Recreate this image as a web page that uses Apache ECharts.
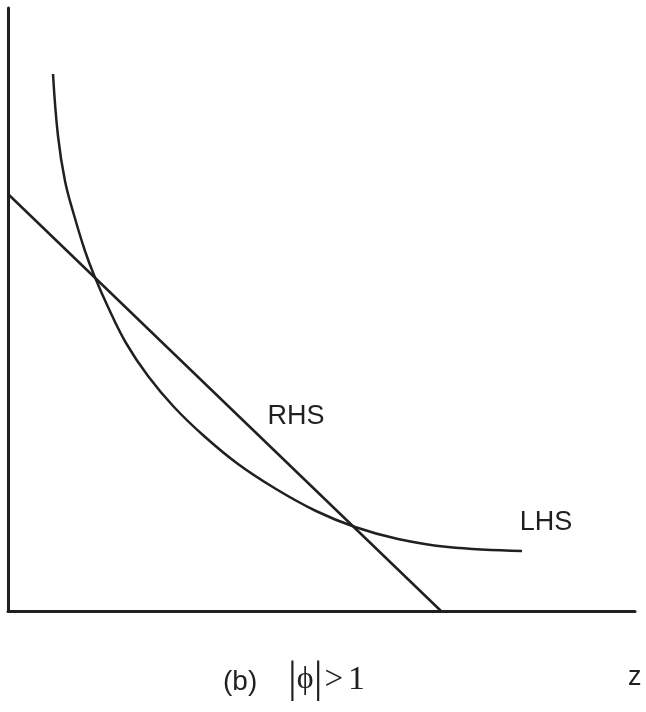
<!DOCTYPE html>
<html>
<head>
<meta charset="utf-8">
<script src="https://cdn.jsdelivr.net/npm/echarts@6/dist/echarts.min.js"></script>
<style>html,body{margin:0;padding:0;background:#fff}#c{width:646px;height:712px}</style>
</head>
<body>
<div id="c"></div>
<script>
// Data (arbitrary units)
const rhsLine = [[0, 417], [433, 0]];
const lhsCurve = [
  [45, 537], [50, 475], [57, 430], [66, 396], [77, 360], [86, 336], [100, 304],
  [118, 268], [140, 235], [166, 204], [196, 175], [230, 147], [268, 122],
  [308, 100], [347, 84], [390, 72], [440, 64], [514, 60]
];
const rhsLabelPos = [288, 194];
const lhsLabelPos = [538, 88];
const xMax = 627, yMax = 603;

const ink = '#231f20';
const chart = echarts.init(document.getElementById('c'));
chart.setOption({
  animation: false,
  grid: { left: 8, right: 11, top: 8, bottom: 101 },
  xAxis: {
    type: 'value', min: 0, max: xMax,
    axisLine: { show: true, lineStyle: { color: ink, width: 3 } },
    axisTick: { show: false }, axisLabel: { show: false }, splitLine: { show: false }
  },
  yAxis: {
    type: 'value', min: 0, max: yMax,
    axisLine: { show: true, lineStyle: { color: ink, width: 3 } },
    axisTick: { show: false }, axisLabel: { show: false }, splitLine: { show: false }
  },
  series: [
    {
      type: 'line', data: rhsLine, showSymbol: false, symbol: 'none',
      lineStyle: { color: ink, width: 2.5 },
      markPoint: {
        symbol: 'circle', symbolSize: 0,
        label: { show: true, formatter: 'RHS', color: ink, fontSize: 27, fontFamily: 'Liberation Sans, Arial, sans-serif' },
        data: [{ coord: rhsLabelPos }]
      }
    },
    {
      type: 'line', data: lhsCurve, smooth: 0.4, showSymbol: false, symbol: 'none',
      lineStyle: { color: ink, width: 2.5 },
      markPoint: {
        symbol: 'circle', symbolSize: 0,
        label: { show: true, formatter: 'LHS', color: ink, fontSize: 27, fontFamily: 'Liberation Sans, Arial, sans-serif' },
        data: [{ coord: lhsLabelPos }]
      }
    }
  ],
  graphic: [
    { type: 'text', left: 628, top: 664,
      style: { text: 'z', fill: ink, font: '27px "Liberation Sans", Arial, sans-serif' } },
    { type: 'text', left: 223, top: 668,
      style: { text: '(b)', fill: ink, font: '28px "Liberation Sans", Arial, sans-serif' } },
    { type: 'text', left: 288, top: 658,
      style: {
        text: '{b||}{p|ϕ}{b||}{g|>}{o|1}',
        rich: {
          b: { fontSize: 44, fontFamily: 'Liberation Serif, Times New Roman, serif', fill: ink, verticalAlign: 'middle' },
          p: { fontSize: 32, fontFamily: 'Liberation Serif, Times New Roman, serif', fill: ink, verticalAlign: 'middle' },
          g: { fontSize: 33, fontFamily: 'Liberation Serif, Times New Roman, serif', fill: ink, verticalAlign: 'middle', padding: [0, 5, 0, 2] },
          o: { fontSize: 34, fontFamily: 'Liberation Serif, Times New Roman, serif', fill: ink, verticalAlign: 'middle' }
        }
      } }
  ]
});
</script>
</body>
</html>
